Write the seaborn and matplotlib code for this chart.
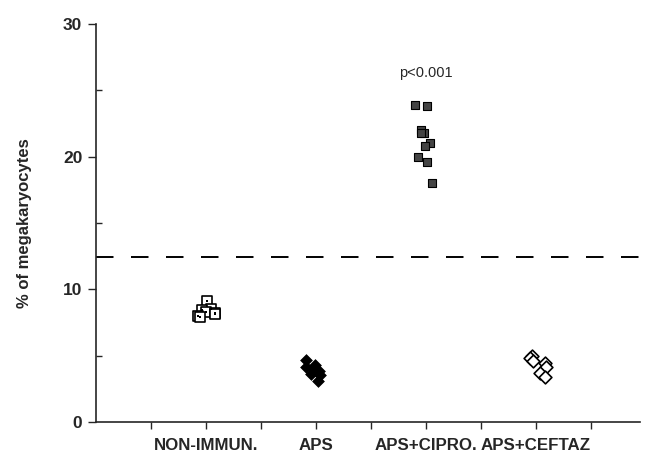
import numpy as np
import pandas as pd
import matplotlib
matplotlib.use("Agg")
import matplotlib.pyplot as plt
import seaborn as sns

# values (% of megakaryocytes)
groups = ["NON-IMMUN.", "APS", "APS+CIPRO.", "APS+CEFTAZ"]
non_immun = [9.1, 8.5, 8.4, 8.3, 8.2, 8.1, 8.0, 7.9]
aps = [4.7, 4.3, 4.1, 3.9, 3.8, 3.6, 3.5, 3.1]
aps_cipro = [23.9, 23.8, 22.0, 21.8, 21.8, 21.0, 20.8, 20.0, 19.6, 18.0]
aps_ceftaz = [5.0, 4.8, 4.6, 4.4, 4.1, 3.7, 3.4]
threshold = 12.4
p_label = "p<0.001"

df = pd.DataFrame({
    "group": [groups[0]] * len(non_immun) + [groups[1]] * len(aps)
             + [groups[2]] * len(aps_cipro) + [groups[3]] * len(aps_ceftaz),
    "value": non_immun + aps + aps_cipro + aps_ceftaz,
})

sns.set_style("ticks")
plt.rcParams["font.family"] = ["Liberation Sans", "DejaVu Sans"]

fig = plt.figure(figsize=(6.46, 4.57), dpi=100)
ax = fig.add_axes([0.149, 0.077, 0.842, 0.87])

styles = {
    groups[0]: dict(marker="s", color="white", edgecolor="black", linewidth=1.2, size=7),
    groups[1]: dict(marker="D", color="black", edgecolor="black", linewidth=0.5, size=6),
    groups[2]: dict(marker="s", color="#444444", edgecolor="black", linewidth=0.8, size=5.8),
    groups[3]: dict(marker="D", color="white", edgecolor="black", linewidth=1.2, size=6.5),
}

np.random.seed(3)
for g in groups:
    sub = df[df["group"] == g]
    n_before = len(ax.collections)
    sns.stripplot(data=sub, x="group", y="value", order=groups, jitter=0.1,
                  ax=ax, zorder=3, **styles[g])
    # little dot in the middle of the open symbols
    if g in (groups[0], groups[3]):
        pts = ax.collections[n_before].get_offsets()
        ax.scatter(pts[:, 0], pts[:, 1], s=4, marker="s", color="black",
                   zorder=4, linewidths=0)

ax.axhline(threshold, color="black", lw=1.4, dashes=(9, 9), zorder=2)
ax.text(2, 26.3, p_label, ha="center", va="center", fontsize=10.5)

ax.set_xlim(-1.0, 3.95)
ax.set_ylim(0, 30)
ax.set_yticks([0, 10, 20, 30])
ax.set_yticks([5, 15, 25], minor=True)
ax.set_xticks(range(len(groups)))
ax.set_xticklabels(groups, fontweight="bold", fontsize=12.2)
ax.set_xticks([-0.5, 0.5, 1.5, 2.5, 3.5], minor=True)
ax.tick_params(axis="y", which="major", direction="out", length=6, width=1,
               labelsize=12.5, pad=4)
ax.tick_params(axis="y", which="minor", direction="in", length=4, width=1)
ax.tick_params(axis="x", which="both", direction="out", length=5, width=1, pad=7)
for lab in ax.get_yticklabels():
    lab.set_fontweight("bold")

ax.set_xlabel("")
ax.set_ylabel("% of megakaryocytes", fontweight="bold", fontsize=12, labelpad=22)
sns.despine(ax=ax)
for s in ("left", "bottom"):
    ax.spines[s].set_linewidth(1.2)

fig.savefig("out.png", dpi=100)
